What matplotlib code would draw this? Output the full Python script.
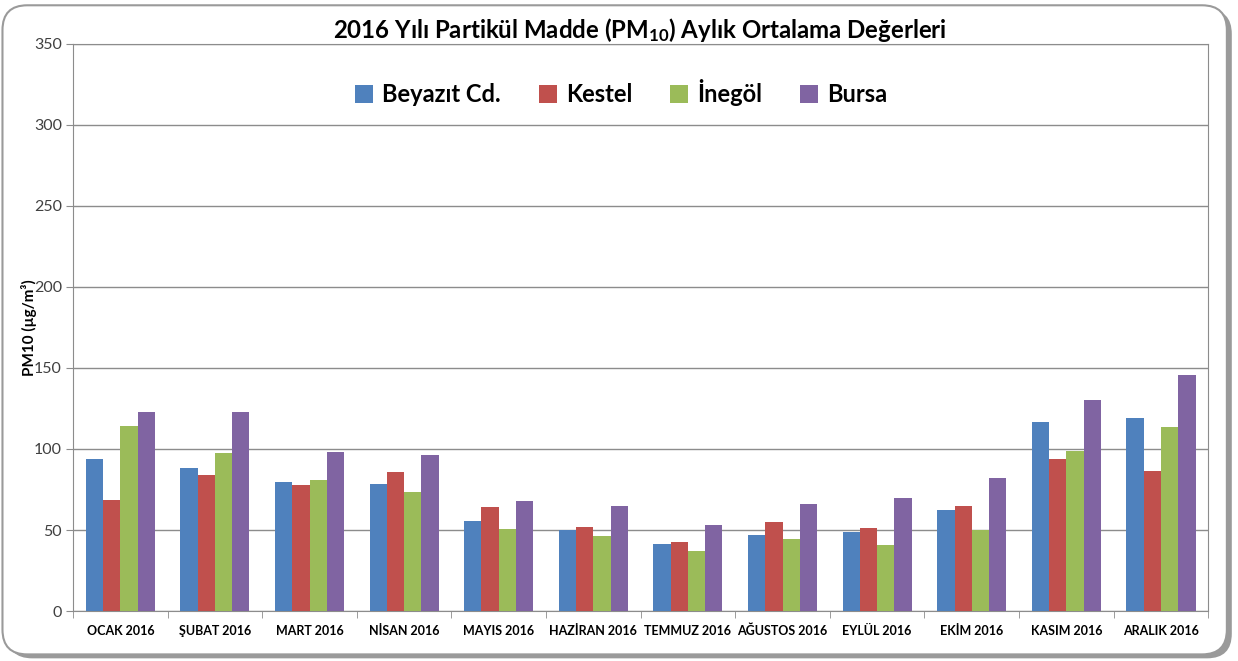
import numpy as np
import matplotlib
matplotlib.use("Agg")
import matplotlib.pyplot as plt
from matplotlib.patches import FancyBboxPatch

plt.rcParams['font.family'] = ['Lato', 'DejaVu Sans']

# veriler
aylar = ['OCAK 2016', 'ŞUBAT 2016', 'MART 2016', 'NİSAN 2016', 'MAYIS 2016',
         'HAZİRAN 2016', 'TEMMUZ 2016', 'AĞUSTOS 2016', 'EYLÜL 2016',
         'EKİM 2016', 'KASIM 2016', 'ARALIK 2016']
istasyonlar = ['Beyazıt Cd.', 'Kestel', 'İnegöl', 'Bursa']
beyazit = [93.6, 88.1, 79.6, 78.2, 55.6, 50.0, 41.2, 46.7, 49.0, 62.3, 116.9, 119.1]
kestel = [68.3, 83.8, 77.6, 85.6, 64.4, 52.0, 42.8, 54.7, 51.0, 65.0, 93.6, 86.6]
inegol = [114.2, 97.3, 80.7, 73.7, 50.6, 46.1, 37.2, 44.6, 40.7, 50.0, 99.0, 113.4]
bursa = [122.6, 122.6, 98.0, 96.1, 67.9, 64.8, 53.1, 66.0, 69.9, 81.9, 130.0, 145.9]
renkler = ['#4F81BD', '#C0504D', '#9BBB59', '#8064A2']

seriler = [beyazit, kestel, inegol, bursa]

fig = plt.figure(figsize=(12.38, 6.61), dpi=100)

# dis cerceve (golgeli)
golge = FancyBboxPatch((0.006, 0.004), 0.989, 0.982, boxstyle="round,pad=0,rounding_size=0.02",
                       transform=fig.transFigure, facecolor='#9a9a9a', edgecolor='none',
                       mutation_aspect=1238/661, zorder=-2)
cerceve = FancyBboxPatch((0.002, 0.010), 0.989, 0.982, boxstyle="round,pad=0,rounding_size=0.02",
                         transform=fig.transFigure, facecolor='white', edgecolor='#9a9a9a',
                         linewidth=1.5, mutation_aspect=1238/661, zorder=-1)
fig.patches.extend([golge, cerceve])

ax = fig.add_axes([0.059, 0.0756, 0.917, 0.858])
ax.set_facecolor('none')

x = np.arange(len(aylar))
w = 0.1825
for i, (s, r, ad) in enumerate(zip(seriler, renkler, istasyonlar)):
    ax.bar(x + (i - 1.5) * w, s, width=w, color=r, label=ad, zorder=3)

ax.set_xlim(-0.5, len(aylar) - 0.5)
ax.set_ylim(0, 350)
ax.set_yticks(np.arange(0, 351, 50))
ax.yaxis.grid(True, color='#8c8c8c', linewidth=1)
ax.set_axisbelow(True)

ax.set_xticks(x)
ax.set_xticklabels(aylar, fontsize=9, fontweight='bold')
ax.set_xticks(np.arange(-0.5, len(aylar)), minor=True)
ax.tick_params(axis='x', which='major', length=0, pad=10)
ax.tick_params(axis='x', which='minor', length=5, color='#8c8c8c')
ax.tick_params(axis='y', length=5, color='#8c8c8c', labelsize=11.5, labelcolor='#404040', pad=3)

for sp in ax.spines.values():
    sp.set_color('#8c8c8c')

ax.set_ylabel('PM10 (µg/m³)', fontsize=11, fontweight='bold', labelpad=-2)

fig.text(0.517, 0.955, r'2016 Yılı Partikül Madde (PM$\mathregular{_{10}}$) Aylık Ortalama Değerleri',
         ha='center', va='center', fontsize=17.3, fontweight='bold')

ax.legend(loc='upper center', bbox_to_anchor=(0.483, 0.975), ncol=4, frameon=False,
          prop={'size': 17, 'weight': 'bold'}, handlelength=0.75, handleheight=0.75,
          handletextpad=0.4, columnspacing=1.6)

fig.savefig('out.png', dpi=100)
